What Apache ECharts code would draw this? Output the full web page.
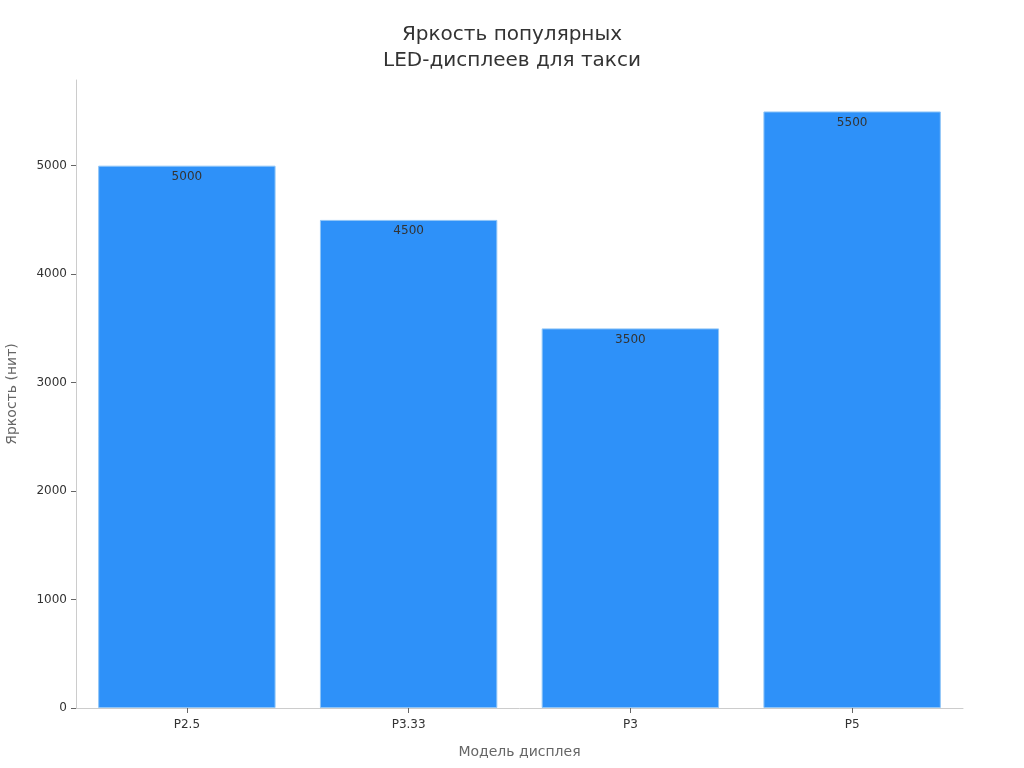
<!DOCTYPE html>
<html>
<head>
<meta charset="utf-8">
<script src="https://cdn.jsdelivr.net/npm/echarts@6/dist/echarts.min.js"></script>
<style>
  html, body { margin: 0; padding: 0; background: #fff; }
  #chart { width: 1024px; height: 768px; }
</style>
</head>
<body>
<div id="chart"></div>
<script>
var categories = ['P2.5', 'P3.33', 'P3', 'P5'];
var brightness = [5000, 4500, 3500, 5500];
var yTicks = [0, 1000, 2000, 3000, 4000, 5000];

document.addEventListener("DOMContentLoaded", function() {
  var chart = echarts.init(document.getElementById('chart'));
  var font = 'DejaVu Sans';

  var option = {
    backgroundColor: '#ffffff',
    animation: false,
    title: {
      text: 'Яркость популярных\nLED-дисплеев для такси',
      left: 'center',
      top: 17,
      textStyle: {
        fontFamily: font,
        fontSize: 20,
        fontWeight: 'normal',
        color: '#333333',
        lineHeight: 26
      }
    },
    grid: {
      left: 76,
      right: 61,
      top: 80,
      bottom: 60,
      containLabel: false,
      outerBoundsMode: 'none'
    },
    xAxis: {
      type: 'category',
      data: categories,
      name: 'Модель дисплея',
      nameLocation: 'middle',
      nameGap: 37,
      nameTextStyle: { fontFamily: font, fontSize: 14, color: '#666666' },
      axisLine: { lineStyle: { color: '#cccccc' } },
      axisTick: { show: true, alignWithLabel: true, length: 5, lineStyle: { color: '#666666' } },
      axisLabel: { fontFamily: font, fontSize: 12, color: '#333333', margin: 11 }
    },
    yAxis: {
      type: 'value',
      min: 0,
      max: 5790,
      name: 'Яркость (нит)',
      nameLocation: 'middle',
      nameGap: 57,
      nameTextStyle: { fontFamily: font, fontSize: 14, color: '#666666' },
      axisLine: { show: true, lineStyle: { color: '#cccccc' } },
      axisTick: { show: true, length: 5, customValues: yTicks, lineStyle: { color: '#666666' } },
      axisLabel: {
        fontFamily: font, fontSize: 12, color: '#333333', margin: 9,
        customValues: yTicks,
        formatter: function(v) { return String(v); }
      },
      splitLine: { show: false }
    },
    series: [
      {
        type: 'bar',
        data: brightness,
        barCategoryGap: '20%',
        itemStyle: {
          color: '#2e91f9',
          borderColor: '#8fc5f7',
          borderWidth: 1
        },
        label: {
          show: true,
          position: 'insideTop',
          distance: 5,
          fontFamily: font,
          fontSize: 12,
          color: '#333333'
        }
      }
    ]
  };

  chart.setOption(option);

  window.addEventListener('resize', function() {
    chart.resize();
  });
});
</script>
</body>
</html>
